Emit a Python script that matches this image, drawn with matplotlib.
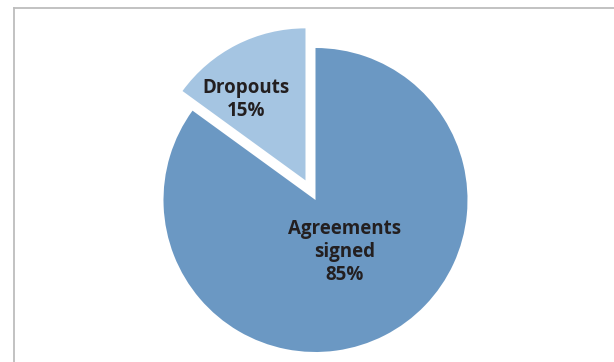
import matplotlib
matplotlib.use("Agg")
import matplotlib.pyplot as plt
from matplotlib.lines import Line2D

categories = ["Dropouts", "Agreements\nsigned"]
values = [15, 85]
colors = ["#a5c5e2", "#6b98c3"]
explode = [0.145, 0.0]

W, H = 614, 362
S = 152.0            # pixels per unit radius
cx, cy = 315.5, 200  # pie centre in image pixels (y from top)

fig = plt.figure(figsize=(W / 100, H / 100), dpi=100)
ax = fig.add_axes([0, 0, 1, 1])


def px(x, y):
    return ((x - cx) / S, (cy - y) / S)


labels = [f"{c}\n{v}%" for c, v in zip(categories, values)]
wedges, texts = ax.pie(values, colors=colors, explode=explode, startangle=90,
                       counterclock=True, radius=1.0, center=(0, 0),
                       labels=labels, labeldistance=0.5,
                       wedgeprops=dict(linewidth=0),
                       textprops=dict(fontsize=13.5, fontweight="bold",
                                      color="#231f20", family="Open Sans",
                                      linespacing=1.2))
label_pos = [px(246, 100), px(345, 252)]
for t, (x, y) in zip(texts, label_pos):
    t.set_position((x, y))
    t.set_ha("center")
    t.set_va("center")

ax.set_xlim(-cx / S, (W - cx) / S)
ax.set_ylim(-(H - cy) / S, cy / S)
ax.set_aspect("equal")
ax.axis("off")

gray = "#bdbdbd"
fig.add_artist(Line2D([14 / W, 1], [1 - 7.5 / H, 1 - 7.5 / H], color=gray,
                      lw=1.3, transform=fig.transFigure))
fig.add_artist(Line2D([14 / W, 14 / W], [0, 1 - 7.5 / H], color=gray,
                      lw=1.3, transform=fig.transFigure))

fig.savefig("out.png", dpi=100, facecolor="white")
